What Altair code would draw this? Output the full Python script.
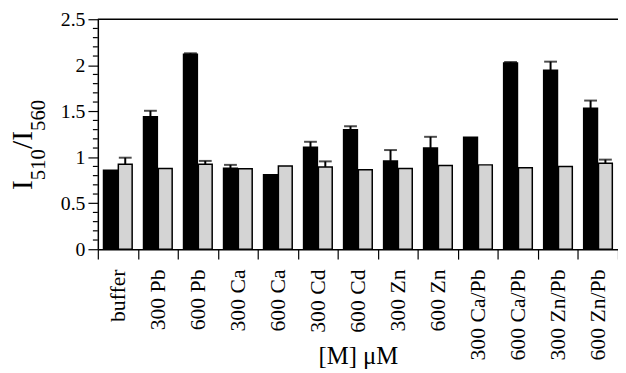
import altair as alt
import pandas as pd

categories = ["buffer", "300 Pb", "600 Pb", "300 Ca", "600 Ca", "300 Cd", "600 Cd",
              "300 Zn", "600 Zn", "300 Ca/Pb", "600 Ca/Pb", "300 Zn/Pb", "600 Zn/Pb"]
dark_values = [0.86, 1.44, 2.12, 0.88, 0.81, 1.11, 1.30, 0.96, 1.10, 1.218, 2.025, 1.946, 1.533]
dark_upper = [None, 1.505, 2.13, 0.917, None, 1.168, 1.337, 1.078, 1.222, None, 2.035, 2.039, 1.616]
light_values = [0.925, 0.877, 0.925, 0.875, 0.905, 0.895, 0.863, 0.877, 0.91, 0.917, 0.885, 0.90, 0.935]
light_upper = [0.995, None, 0.96, None, None, 0.955, None, None, None, None, None, None, 0.974]
major_ticks = [0, 0.5, 1, 1.5, 2, 2.5]
minor_ticks = [round(i * 0.1, 1) for i in range(26) if i % 5 != 0]

# y-axis title pieces: I_510 / I_560
title_parts = ["I", "510", "/", "I", "560"]
title_sizes = [30, 21, 30, 30, 21]
title_x = [-67, -54, -67, -67, -54]
title_y = [173, 163, 131.5, 123.2, 113.2]

rows = []
for i, c in enumerate(categories):
    rows.append({"cat": c, "series": "a", "value": dark_values[i], "upper": dark_upper[i]})
    rows.append({"cat": c, "series": "b", "value": light_values[i], "upper": light_upper[i]})
df = pd.DataFrame(rows)
err = df.dropna(subset=["upper"])

FONT = "Liberation Serif"

x_enc = alt.X(
    "cat:N", sort=categories,
    scale=alt.Scale(paddingInner=0, paddingOuter=0),
    axis=alt.Axis(
        labelAngle=-90, labelFontSize=22, labelFont=FONT, labelColor="black",
        tickSize=10, tickBand="extent", tickColor="black", tickWidth=1.2,
        domainColor="black", domainWidth=1.5, labelPadding=10,
        title="[M] μM", titleFont=FONT, titleFontSize=25, titleFontWeight="normal",
        titleColor="black", titleY=116, titleBaseline="alphabetic",
    ),
)
xo_enc = alt.XOffset("series:N", scale=alt.Scale(paddingInner=0.067, paddingOuter=0.383))

y_scale = alt.Scale(domain=[0, 2.5], nice=False)
y_axis = alt.Axis(
    values=major_ticks, format="~g",
    labelFontSize=20, labelFont=FONT, labelColor="black", labelPadding=3,
    tickSize=10, tickColor="black", tickWidth=1.2,
    domainColor="black", domainWidth=1.5, grid=False, title=None,
)

bars = alt.Chart(df).mark_bar(stroke="black", strokeWidth=1.5).encode(
    x=x_enc,
    xOffset=xo_enc,
    y=alt.Y("value:Q", scale=y_scale, axis=y_axis),
    color=alt.Color("series:N", scale=alt.Scale(domain=["a", "b"], range=["#000000", "#d4d4d4"]), legend=None),
)

err_rule = alt.Chart(err).mark_rule(color="black", strokeWidth=2).encode(
    x=x_enc, xOffset=xo_enc, y=alt.Y("value:Q", scale=y_scale), y2="upper:Q"
)
err_cap = alt.Chart(err).mark_tick(color="black", thickness=2, size=13).encode(
    x=x_enc, xOffset=xo_enc, y=alt.Y("upper:Q", scale=y_scale)
)
top_line = alt.Chart(pd.DataFrame({"v": [2.5]})).mark_rule(color="black", strokeWidth=1.5).encode(
    y=alt.Y("v:Q", scale=y_scale)
)
minor = alt.Chart(pd.DataFrame({"m": minor_ticks})).mark_rule(color="black", strokeWidth=1.2).encode(
    y=alt.Y("m:Q", scale=y_scale), x=alt.value(-5), x2=alt.value(0)
)

tdf = pd.DataFrame({"t": title_parts, "s": title_sizes, "px": title_x, "py": title_y})
title_layers = []
for i in range(len(title_parts)):
    title_layers.append(
        alt.Chart(tdf.iloc[[i]]).mark_text(
            font=FONT, fontSize=title_sizes[i], angle=270, align="left",
            baseline="alphabetic", color="black",
        ).encode(text="t:N", x=alt.value(title_x[i]), y=alt.value(title_y[i]))
    )

chart = alt.layer(bars, err_rule, err_cap, top_line, minor, *title_layers).properties(
    width=527, height=233,
    autosize=alt.AutoSizeParams(type="none"),
    padding={"left": 91, "top": 9, "right": 0, "bottom": 123},
).configure_view(stroke=None)

chart.save("out.html", embed_options={"renderer": "svg", "actions": False})
